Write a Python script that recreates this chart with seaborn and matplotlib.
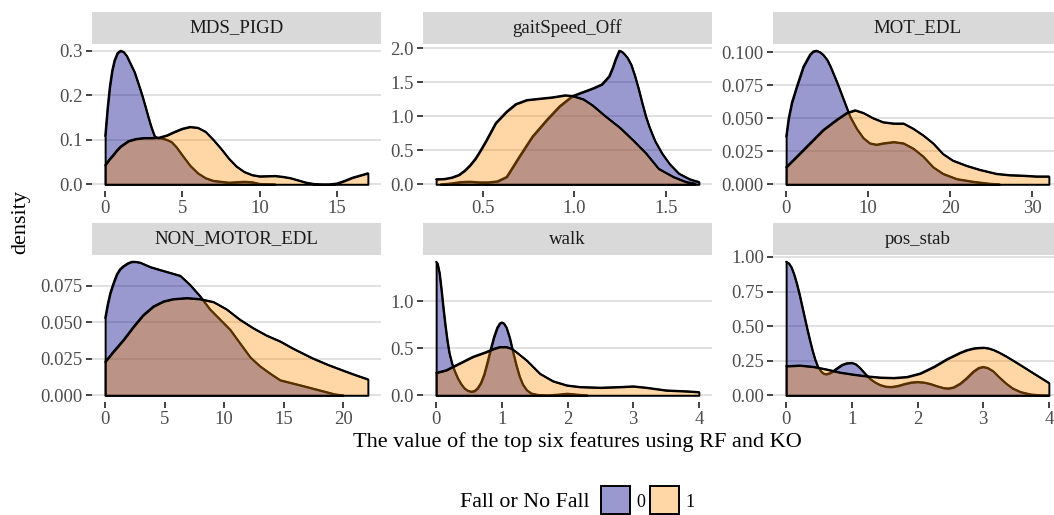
import numpy as np
import pandas as pd
import matplotlib
matplotlib.use("Agg")
import matplotlib.pyplot as plt
from matplotlib.patches import Rectangle
import seaborn as sns

# ---- density curves per feature, group 0 = no fall, group 1 = fall ----
mds_pigd_x0 = [0, 0.15, 0.3, 0.45, 0.6, 0.8, 1.0, 1.2, 1.4, 1.65, 1.9, 2.15, 2.4, 2.6, 2.8, 3.0, 3.2, 3.4, 3.6, 4.0, 4.3, 4.6,
               5.0, 5.5, 6.0, 6.5, 7.0, 8.0, 9.0, 9.5, 10.0, 11.0]
mds_pigd_y0 = [0.108, 0.17, 0.22, 0.255, 0.278, 0.295, 0.30, 0.297, 0.288, 0.27, 0.252, 0.226, 0.199, 0.175, 0.15, 0.127, 0.108, 0.104,
               0.104, 0.10, 0.095, 0.084, 0.065, 0.042, 0.025, 0.014, 0.008, 0.004, 0.006, 0.005, 0.001, 0.0]
mds_pigd_x1 = [0, 0.25, 0.5, 0.75, 1.0, 1.5, 2.0, 2.5, 3.0, 3.5, 4.0, 4.5, 5.0, 5.5, 6.0, 6.5, 7.0, 7.5, 8.0, 8.5, 9.0, 9.5,
               10.0, 11.0, 11.5, 12.0, 12.5, 13.0, 13.5, 14.0, 14.5, 15.0, 15.5, 16.0, 16.5, 17.0]
mds_pigd_y1 = [0.043, 0.055, 0.065, 0.076, 0.085, 0.097, 0.102, 0.104, 0.104, 0.105, 0.11, 0.118, 0.125, 0.129, 0.127, 0.118, 0.10,
               0.08, 0.058, 0.04, 0.028, 0.021, 0.018, 0.019, 0.017, 0.014, 0.009, 0.004, 0.001, 0.0, 0.0, 0.002, 0.008, 0.015,
               0.02, 0.025]

gait_x0 = [0.27, 0.33, 0.38, 0.43, 0.48, 0.53, 0.58, 0.63, 0.70, 0.77, 0.85, 0.92, 0.99, 1.05, 1.10, 1.15, 1.19, 1.21, 1.225,
           1.245, 1.26, 1.275, 1.29, 1.31, 1.33, 1.35, 1.37, 1.39, 1.41, 1.44, 1.48, 1.52, 1.57, 1.63, 1.68]
gait_y0 = [0.0, 0.015, 0.035, 0.04, 0.03, 0.03, 0.045, 0.11, 0.41, 0.70, 0.95, 1.15, 1.30, 1.36, 1.41, 1.47, 1.59, 1.72, 1.84,
           1.965, 1.95, 1.91, 1.86, 1.76, 1.60, 1.41, 1.20, 1.00, 0.84, 0.64, 0.45, 0.30, 0.16, 0.075, 0.035]
gait_x1 = [0.245, 0.29, 0.33, 0.37, 0.40, 0.43, 0.46, 0.49, 0.52, 0.57, 0.63, 0.68, 0.74, 0.81, 0.88, 0.95, 0.99, 1.05, 1.10,
           1.17, 1.25, 1.32, 1.39, 1.46, 1.54, 1.61, 1.66]
gait_y1 = [0.075, 0.08, 0.10, 0.14, 0.20, 0.28, 0.38, 0.51, 0.65, 0.90, 1.07, 1.18, 1.24, 1.26, 1.28, 1.31, 1.30, 1.25, 1.16,
           1.0, 0.83, 0.65, 0.46, 0.23, 0.11, 0.035, 0.01]

mot_x0 = [0, 0.3, 0.7, 1.3, 2.1, 2.9, 3.3, 3.7, 4.1, 4.5, 5.0, 5.4, 6.2, 7.0, 7.8, 8.6, 9.4, 10.2, 11.0, 11.8, 13.1, 14.3, 15.5,
          16.7, 17.9, 19.1, 20.8, 22.8, 24.8, 26]
mot_y0 = [0.036, 0.05, 0.062, 0.074, 0.089, 0.098, 0.1005, 0.101, 0.100, 0.098, 0.094, 0.089, 0.077, 0.064, 0.051, 0.042, 0.035,
          0.031, 0.030, 0.031, 0.032, 0.031, 0.027, 0.021, 0.013, 0.008, 0.004, 0.002, 0.0005, 0.0]
mot_x1 = [0, 1.3, 2.9, 4.5, 6.2, 7.4, 8.4, 9.4, 10.6, 11.8, 13.1, 14.3, 15.5, 16.7, 17.9, 19.1, 20.3, 22.0, 23.6, 25.6, 27.2,
          28.9, 30.5, 32]
mot_y1 = [0.013, 0.021, 0.031, 0.041, 0.049, 0.054, 0.056, 0.054, 0.050, 0.047, 0.046, 0.046, 0.042, 0.037, 0.031, 0.023, 0.018,
          0.014, 0.011, 0.008, 0.007, 0.0066, 0.006, 0.006]

nonmot_x0 = [0, 0.2, 0.42, 0.7, 0.98, 1.25, 1.54, 1.9, 2.24, 2.6, 2.94, 3.78, 4.6, 5.45, 6.3, 7.1, 7.97, 8.8, 9.65, 10.5, 11.3,
             12.2, 13.0, 13.85, 14.7, 16.4, 18.0, 19.3, 20]
nonmot_y0 = [0.053, 0.062, 0.070, 0.077, 0.083, 0.0865, 0.0886, 0.0905, 0.0916, 0.0915, 0.091, 0.088, 0.086, 0.084, 0.082, 0.076,
             0.068, 0.059, 0.052, 0.045, 0.036, 0.026, 0.020, 0.015, 0.0104, 0.0069, 0.0035, 0.0007, 0.0]
nonmot_x1 = [0, 0.7, 1.54, 2.38, 3.2, 4.06, 4.9, 5.73, 6.85, 7.97, 9.1, 10.2, 11.3, 12.45, 13.57, 14.7, 15.8, 17.4, 18.7, 20.0,
             21.0, 22.07]
nonmot_y1 = [0.023, 0.030, 0.038, 0.047, 0.055, 0.061, 0.0644, 0.066, 0.0667, 0.066, 0.064, 0.059, 0.052, 0.046, 0.041, 0.037,
             0.032, 0.0255, 0.021, 0.017, 0.014, 0.011]

walk_x0 = [0, 0.02, 0.05, 0.08, 0.11, 0.14, 0.17, 0.2, 0.24, 0.28, 0.33, 0.38, 0.43, 0.48, 0.53, 0.58, 0.63, 0.68, 0.73, 0.78,
           0.83, 0.88, 0.93, 0.97, 1.0, 1.03, 1.07, 1.12, 1.17, 1.22, 1.27, 1.32, 1.38, 1.45, 1.55, 1.7, 1.85, 2.0, 2.15, 2.3]
walk_y0 = [1.42, 1.40, 1.30, 1.12, 0.92, 0.74, 0.58, 0.45, 0.34, 0.26, 0.18, 0.12, 0.075, 0.05, 0.04, 0.045, 0.075, 0.13, 0.22,
           0.35, 0.49, 0.62, 0.72, 0.765, 0.775, 0.765, 0.72, 0.61, 0.46, 0.32, 0.20, 0.115, 0.055, 0.02, 0.005, 0.0, 0.008,
           0.018, 0.008, 0.0]
walk_x1 = [0, 0.15, 0.36, 0.56, 0.76, 0.88, 0.97, 1.07, 1.15, 1.22, 1.38, 1.58, 1.78, 1.99, 2.19, 2.5, 2.8, 3.0, 3.2, 3.5, 3.82, 4.0]
walk_y1 = [0.24, 0.266, 0.34, 0.41, 0.46, 0.495, 0.514, 0.514, 0.495, 0.46, 0.37, 0.23, 0.15, 0.106, 0.089, 0.082, 0.089, 0.096,
           0.082, 0.053, 0.043, 0.035]

pos_x0 = [0, 0.04, 0.08, 0.12, 0.16, 0.2, 0.24, 0.28, 0.32, 0.36, 0.4, 0.44, 0.48, 0.52, 0.56, 0.6, 0.65, 0.7, 0.77, 0.85, 0.92,
          1.0, 1.06, 1.12, 1.2, 1.27, 1.35, 1.43, 1.52, 1.6, 1.7, 1.8, 1.9, 2.0, 2.1, 2.2, 2.3, 2.4, 2.47, 2.55, 2.65, 2.75,
          2.85, 2.93, 3.0, 3.07, 3.15, 3.25, 3.35, 3.45, 3.57, 3.72, 3.87, 4.0]
pos_y0 = [0.966, 0.955, 0.925, 0.875, 0.81, 0.735, 0.65, 0.565, 0.48, 0.40, 0.325, 0.26, 0.21, 0.18, 0.16, 0.153, 0.158, 0.17,
          0.194, 0.22, 0.232, 0.235, 0.225, 0.20, 0.158, 0.122, 0.095, 0.075, 0.063, 0.061, 0.068, 0.082, 0.093, 0.097, 0.093,
          0.082, 0.066, 0.053, 0.05, 0.058, 0.085, 0.125, 0.172, 0.198, 0.206, 0.198, 0.175, 0.128, 0.085, 0.05, 0.024, 0.007,
          0.001, 0.0]
pos_x1 = [0, 0.21, 0.42, 0.62, 0.82, 1.03, 1.23, 1.43, 1.64, 1.84, 2.04, 2.25, 2.45, 2.65, 2.75, 2.86, 2.93, 3.01, 3.08, 3.16,
          3.26, 3.36, 3.57, 3.77, 4.0]
pos_y1 = [0.211, 0.216, 0.206, 0.187, 0.165, 0.15, 0.138, 0.129, 0.126, 0.133, 0.158, 0.206, 0.262, 0.308, 0.327, 0.34, 0.343,
          0.345, 0.34, 0.328, 0.305, 0.279, 0.218, 0.158, 0.09]

features = ["MDS_PIGD", "gaitSpeed_Off", "MOT_EDL", "NON_MOTOR_EDL", "walk", "pos_stab"]
groups = ["0", "1"]

x_ticks = {
    "MDS_PIGD": [0, 5, 10, 15],
    "gaitSpeed_Off": [0.5, 1.0, 1.5],
    "MOT_EDL": [0, 10, 20, 30],
    "NON_MOTOR_EDL": [0, 5, 10, 15, 20],
    "walk": [0, 1, 2, 3, 4],
    "pos_stab": [0, 1, 2, 3, 4],
}
x_tick_labels = {
    "MDS_PIGD": ["0", "5", "10", "15"],
    "gaitSpeed_Off": ["0.5", "1.0", "1.5"],
    "MOT_EDL": ["0", "10", "20", "30"],
    "NON_MOTOR_EDL": ["0", "5", "10", "15", "20"],
    "walk": ["0", "1", "2", "3", "4"],
    "pos_stab": ["0", "1", "2", "3", "4"],
}
y_ticks = {
    "MDS_PIGD": [0.0, 0.1, 0.2, 0.3],
    "gaitSpeed_Off": [0.0, 0.5, 1.0, 1.5, 2.0],
    "MOT_EDL": [0.0, 0.025, 0.05, 0.075, 0.1],
    "NON_MOTOR_EDL": [0.0, 0.025, 0.05, 0.075],
    "walk": [0.0, 0.5, 1.0],
    "pos_stab": [0.0, 0.25, 0.5, 0.75, 1.0],
}
y_tick_labels = {
    "MDS_PIGD": ["0.0", "0.1", "0.2", "0.3"],
    "gaitSpeed_Off": ["0.0", "0.5", "1.0", "1.5", "2.0"],
    "MOT_EDL": ["0.000", "0.025", "0.050", "0.075", "0.100"],
    "NON_MOTOR_EDL": ["0.000", "0.025", "0.050", "0.075"],
    "walk": ["0.0", "0.5", "1.0"],
    "pos_stab": ["0.00", "0.25", "0.50", "0.75", "1.00"],
}

curves = {
    "MDS_PIGD": [(mds_pigd_x0, mds_pigd_y0), (mds_pigd_x1, mds_pigd_y1)],
    "gaitSpeed_Off": [(gait_x0, gait_y0), (gait_x1, gait_y1)],
    "MOT_EDL": [(mot_x0, mot_y0), (mot_x1, mot_y1)],
    "NON_MOTOR_EDL": [(nonmot_x0, nonmot_y0), (nonmot_x1, nonmot_y1)],
    "walk": [(walk_x0, walk_y0), (walk_x1, walk_y1)],
    "pos_stab": [(pos_x0, pos_y0), (pos_x1, pos_y1)],
}

# tidy table of all curves
rows = []
for feat in features:
    for grp, (xs, ys) in zip(groups, curves[feat]):
        for xv, yv in zip(xs, ys):
            rows.append((feat, grp, xv, yv))
df = pd.DataFrame(rows, columns=["feature", "fall", "value", "density"])

sns.set_theme(style="white")
plt.rcParams["font.family"] = ["Liberation Serif", "DejaVu Serif"]

fill_colors = {"0": (0 / 255, 0 / 255, 139 / 255, 0.40), "1": (255 / 255, 140 / 255, 0 / 255, 0.35)}

W, H = 1054, 515
fig = plt.figure(figsize=(W / 100, H / 100), dpi=100)

col_left = [92, 423, 773]
row_bottom_px = [191, 402]
panel_w, panel_h = 289, 147
strip_h = 32
LW = 1.4

for i, feat in enumerate(features):
    r, c = divmod(i, 3)
    ax = fig.add_axes([col_left[c] / W, 1 - row_bottom_px[r] / H, panel_w / W, panel_h / H])
    sub = df[df["feature"] == feat]
    for k, grp in enumerate(groups):
        g = sub[sub["fall"] == grp]
        z = 2 + k
        ax.fill_between(g["value"].to_numpy(), g["density"].to_numpy(), 0,
                        facecolor=fill_colors[grp], edgecolor="black", linewidth=LW, zorder=z)
        sns.lineplot(data=g, x="value", y="density", ax=ax, color="black", linewidth=LW,
                     estimator=None, sort=False, legend=False, zorder=z + 0.5)
    xmin, xmax = sub["value"].min(), sub["value"].max()
    ymax = sub["density"].max()
    xr = xmax - xmin
    ax.set_xlim(xmin - 0.05 * xr, xmax + 0.05 * xr)
    ax.set_ylim(-0.05 * ymax, 1.05 * ymax)
    ax.set_xticks(x_ticks[feat])
    ax.set_xticklabels(x_tick_labels[feat])
    ax.set_yticks(y_ticks[feat])
    ax.set_yticklabels(y_tick_labels[feat])
    ax.set_xlabel("")
    ax.set_ylabel("")
    ax.set_axisbelow(True)
    ax.yaxis.grid(True, color="#D9D9D9", linewidth=1.1, zorder=0)
    ax.xaxis.grid(False)
    sns.despine(ax=ax, left=True, bottom=True)
    ax.tick_params(axis="both", which="major", length=4.3, width=1.3, color="#333333",
                   labelsize=13.5, labelcolor="#4D4D4D", pad=2.2)
    ax.tick_params(axis="y", left=True, right=False)
    ax.tick_params(axis="x", bottom=True, top=False)
    # facet strip
    sh = strip_h / panel_h
    ax.add_patch(Rectangle((0, 1), 1, sh, transform=ax.transAxes, facecolor="#D9D9D9",
                           edgecolor="none", clip_on=False, zorder=1))
    ax.text(0.5, 1 + sh / 2, feat, transform=ax.transAxes, ha="center", va="center",
            fontsize=13.6, color="#1A1A1A")

fig.text(21 / W, 1 - 222 / H, "density", rotation=90, ha="center", va="center", fontsize=16, color="black")
fig.text(577 / W, 1 - 442 / H, "The value of the top six features using RF and KO",
         ha="center", va="center", fontsize=16, color="black")

# legend
fig.text(460 / W, 1 - 507 / H, "Fall or No Fall", ha="left", va="baseline", fontsize=15.8, color="black")
box_w, box_h = 29, 28
for left, txt_x, grp in [(601, 636, "0"), (650, 685, "1")]:
    fig.patches.append(Rectangle((left / W, 1 - 514 / H), box_w / W, box_h / H, transform=fig.transFigure,
                                 facecolor=fill_colors[grp], edgecolor="black", linewidth=1.4))
    fig.text(txt_x / W, 1 - 507 / H, grp, ha="left", va="baseline", fontsize=13, color="black")

fig.savefig("out.png", dpi=100, facecolor="white")
